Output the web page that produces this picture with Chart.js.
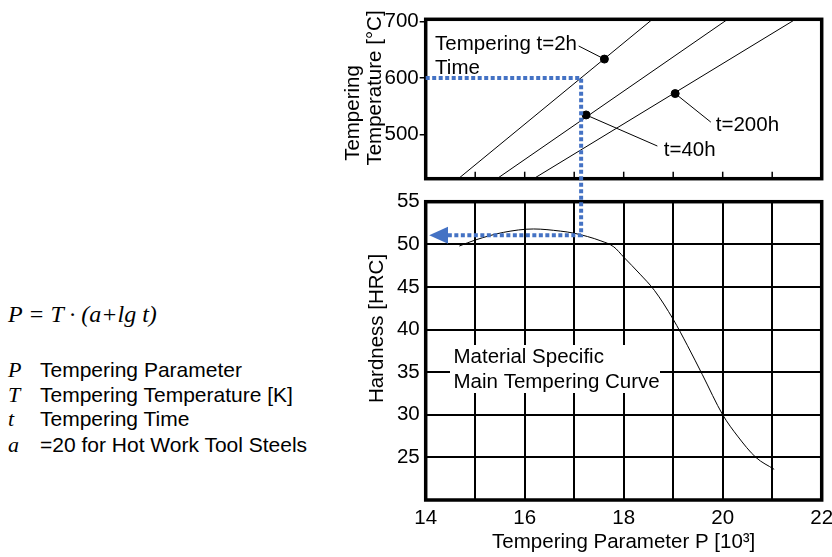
<!DOCTYPE html>
<html>
<head>
<meta charset="utf-8">
<script src="https://cdn.jsdelivr.net/npm/chart.js@4.4.0/dist/chart.umd.min.js"></script>
<style>
  html, body { margin: 0; padding: 0; background: #fff; }
  body { width: 832px; height: 557px; overflow: hidden; position: relative; font-family: "Liberation Sans", Arial, sans-serif; color: #000; }
  #top-wrap, #bottom-wrap { position: absolute; left: 330px; top: 0; width: 520px; }
  #top-wrap { height: 192px; z-index: 1; }
  #bottom-wrap { height: 557px; z-index: 2; }
  .formula { position: absolute; left: 8px; top: 301px; line-height: 28px; font: italic 24px "Liberation Serif", "Times New Roman", serif; white-space: nowrap; }
  .row { position: absolute; left: 8px; height: 25px; line-height: 25px; font-size: 21px; white-space: nowrap; }
  .row i { font-family: "Liberation Serif", "Times New Roman", serif; font-size: 22px; display: inline-block; width: 32px; }
</style>
</head>
<body>
<div class="formula">P = T · (a+lg t)</div>
<div class="row" style="top:357px"><i>P</i>Tempering Parameter</div>
<div class="row" style="top:382px"><i>T</i>Tempering Temperature [K]</div>
<div class="row" style="top:406px"><i>t</i>Tempering Time</div>
<div class="row" style="top:432px"><i>a</i>=20 for Hot Work Tool Steels</div>

<div id="top-wrap"><canvas id="top-chart"></canvas></div>
<div id="bottom-wrap"><canvas id="bottom-chart"></canvas></div>

<script>
// tempering parameter axis
const P_TICKS = [14, 15, 16, 17, 18, 19, 20, 21, 22];
const TEMP_TICKS = [500, 600, 700];
const HRC_TICKS = [20, 25, 30, 35, 40, 45, 50, 55];

// temperature lines (P at the bottom and top of the panel)
const LINE_T = [422, 704];
const T2H_P = [14.66, 18.58];
const T40H_P = [15.44, 20.10];
const T200H_P = [16.18, 21.47];

// marked points on the time lines
const DOT_P = [17.61, 17.24, 19.04];
const DOT_T = [633.6, 534.8, 572.6];

// main tempering curve
const CURVE_P = [14.68, 15.0, 15.57, 16.18, 16.72, 17.0, 17.54, 17.8, 18.0, 18.33, 18.62, 19.0, 19.29, 19.59, 20.0, 20.3, 20.67, 21.04];
const CURVE_HRC = [49.8, 50.5, 51.4, 51.8, 51.55, 51.3, 50.4, 49.7, 48.5, 46.5, 44.6, 41.2, 38.1, 34.7, 30.0, 27.5, 25.0, 23.6];

// reading example: 600 °C, 2 h -> hardness
const READ_T = 600;
const READ_P = 17.14;
const READ_HRC = 51.05;

Chart.defaults.font.family = '"Liberation Sans", Arial, sans-serif';
Chart.defaults.font.size = 20.5;
Chart.defaults.color = '#000';

const BLUE = '#4472C4';
const FONT = '20.5px "Liberation Sans", Arial, sans-serif';

function drawFrame(chart) {
  const { ctx, chartArea: a } = chart;
  ctx.save();
  ctx.strokeStyle = '#000';
  ctx.lineWidth = 3.5;
  ctx.strokeRect(a.left, a.top, a.right - a.left, a.bottom - a.top);
  ctx.restore();
}

function vText(ctx, text, x, y) {
  ctx.save();
  ctx.translate(x, y);
  ctx.rotate(-Math.PI / 2);
  ctx.textAlign = 'center';
  ctx.textBaseline = 'middle';
  ctx.fillText(text, 0, 0);
  ctx.restore();
}

const toXY = (xs, ys) => xs.map((x, i) => ({ x: x, y: ys[i] }));
const thinLine = { borderColor: '#000', borderWidth: 1, pointRadius: 0, showLine: true };

const topNotes = {
  id: 'topNotes',
  afterDatasetsDraw(chart) {
    const { ctx, chartArea: a } = chart;
    const x = chart.scales.x, y = chart.scales.y;
    ctx.save();
    // small inward ticks on the bottom edge
    ctx.strokeStyle = '#000';
    ctx.lineWidth = 1.5;
    P_TICKS.slice(1, -1).forEach(p => {
      const px = x.getPixelForValue(p);
      ctx.beginPath();
      ctx.moveTo(px, a.bottom);
      ctx.lineTo(px, a.bottom - 7);
      ctx.stroke();
    });
    // leader lines to the marked points
    ctx.lineWidth = 1;
    const leaders = [[17.09, 656.8], [18.68, 479.8], [19.76, 522.1]];
    leaders.forEach((l, i) => {
      ctx.beginPath();
      ctx.moveTo(x.getPixelForValue(DOT_P[i]), y.getPixelForValue(DOT_T[i]));
      ctx.lineTo(x.getPixelForValue(l[0]), y.getPixelForValue(l[1]));
      ctx.stroke();
    });
    ctx.fillStyle = '#000';
    ctx.font = FONT;
    ctx.textBaseline = 'middle';
    ctx.fillText('Tempering t=2h', x.getPixelForValue(14.19), y.getPixelForValue(659.8));
    ctx.fillText('Time', x.getPixelForValue(14.19), y.getPixelForValue(618));
    ctx.fillText('t=40h', x.getPixelForValue(18.81), y.getPixelForValue(471.6));
    ctx.fillText('t=200h', x.getPixelForValue(19.86), y.getPixelForValue(516.9));
    ctx.restore();
  },
  afterDraw(chart) {
    drawFrame(chart);
    const ctx = chart.ctx;
    ctx.save();
    ctx.fillStyle = '#000';
    ctx.font = FONT;
    vText(ctx, 'Tempering', 23, 113);
    vText(ctx, 'Temperature [°C]', 45.5, 88);
    ctx.restore();
  }
};

const topChart = new Chart(document.getElementById('top-chart'), {
  type: 'scatter',
  data: {
    datasets: [
      Object.assign({ label: 't=2h', data: toXY(T2H_P, LINE_T) }, thinLine),
      Object.assign({ label: 't=40h', data: toXY(T40H_P, LINE_T) }, thinLine),
      Object.assign({ label: 't=200h', data: toXY(T200H_P, LINE_T) }, thinLine),
      { label: 'points', data: toXY(DOT_P, DOT_T), pointRadius: 4, backgroundColor: '#000', borderColor: '#000' }
    ]
  },
  options: {
    responsive: true,
    maintainAspectRatio: false,
    animation: false,
    layout: { padding: { top: 19.3, right: 28.3, bottom: 10.3, left: 0 } },
    plugins: { legend: { display: false }, tooltip: { enabled: false } },
    scales: {
      x: { type: 'linear', min: 14, max: 22, display: false },
      y: {
        type: 'linear', min: 422, max: 704,
        afterBuildTicks: s => { s.ticks = TEMP_TICKS.map(v => ({ value: v })); },
        afterFit: s => { s.width = 95.7; },
        ticks: { padding: 1 },
        grid: { drawOnChartArea: false, drawTicks: true, tickLength: 6, color: '#000', lineWidth: 1.5 },
        border: { display: false }
      }
    }
  },
  plugins: [topNotes]
});

const bottomNotes = {
  id: 'bottomNotes',
  afterDatasetsDraw(chart) {
    const ctx = chart.ctx;
    ctx.save();
    ctx.fillStyle = '#fff';
    ctx.fillRect(120, 345, 210, 48);
    ctx.fillStyle = '#000';
    ctx.font = FONT;
    ctx.textBaseline = 'middle';
    ctx.fillText('Material Specific', 123.5, 357);
    ctx.fillText('Main Tempering Curve', 123.5, 382);
    ctx.restore();
  },
  afterDraw(chart) {
    drawFrame(chart);
    const ctx = chart.ctx;
    const x = chart.scales.x, y = chart.scales.y;
    ctx.save();
    ctx.fillStyle = '#000';
    ctx.font = FONT;
    vText(ctx, 'Hardness [HRC]', 47, 328.5);

    // blue reading path: 600 °C across to the 2 h line, down, across to the axis
    const px = x.getPixelForValue(READ_P);
    const pyT = topChart.scales.y.getPixelForValue(READ_T);
    const pyH = y.getPixelForValue(READ_HRC);
    const tip = x.getPixelForValue(14.07);
    const base = x.getPixelForValue(14.43);
    ctx.strokeStyle = BLUE;
    ctx.lineWidth = 4;
    ctx.setLineDash([4, 2.5]);
    ctx.beginPath();
    ctx.moveTo(topChart.chartArea.left, pyT);
    ctx.lineTo(px, pyT);
    ctx.lineTo(px, pyH);
    ctx.lineTo(base, pyH);
    ctx.stroke();
    ctx.setLineDash([]);
    ctx.fillStyle = BLUE;
    ctx.beginPath();
    ctx.moveTo(tip, pyH);
    ctx.lineTo(base + 1, pyH - 8.5);
    ctx.lineTo(base + 1, pyH + 8.5);
    ctx.closePath();
    ctx.fill();
    ctx.restore();
  }
};

new Chart(document.getElementById('bottom-chart'), {
  type: 'scatter',
  data: {
    datasets: [{
      label: 'Main Tempering Curve',
      data: toXY(CURVE_P, CURVE_HRC),
      showLine: true,
      cubicInterpolationMode: 'monotone',
      borderColor: '#000',
      borderWidth: 1,
      pointRadius: 0
    }]
  },
  options: {
    responsive: true,
    maintainAspectRatio: false,
    animation: false,
    layout: { padding: { top: 201.7, right: 28.3, bottom: 0, left: 0 } },
    plugins: { legend: { display: false }, tooltip: { enabled: false } },
    scales: {
      x: {
        type: 'linear', min: 14, max: 22,
        afterBuildTicks: s => { s.ticks = P_TICKS.map(v => ({ value: v })); },
        afterFit: s => { s.height = 57; },
        ticks: { padding: 6, maxRotation: 0, autoSkip: false, callback: v => (v % 2 === 0 ? v : '') },
        grid: { color: '#000', lineWidth: 2, drawTicks: false },
        border: { display: false },
        title: { display: true, text: 'Tempering Parameter P [10³]', padding: { top: 0, bottom: 2 } }
      },
      y: {
        type: 'linear', min: 20, max: 55,
        afterBuildTicks: s => { s.ticks = HRC_TICKS.map(v => ({ value: v })); },
        afterFit: s => { s.width = 95.7; },
        ticks: { padding: 6, callback: v => (v === 20 ? '' : v) },
        grid: { color: '#000', lineWidth: 2, drawTicks: false },
        border: { display: false }
      }
    }
  },
  plugins: [bottomNotes]
});
</script>
</body>
</html>
